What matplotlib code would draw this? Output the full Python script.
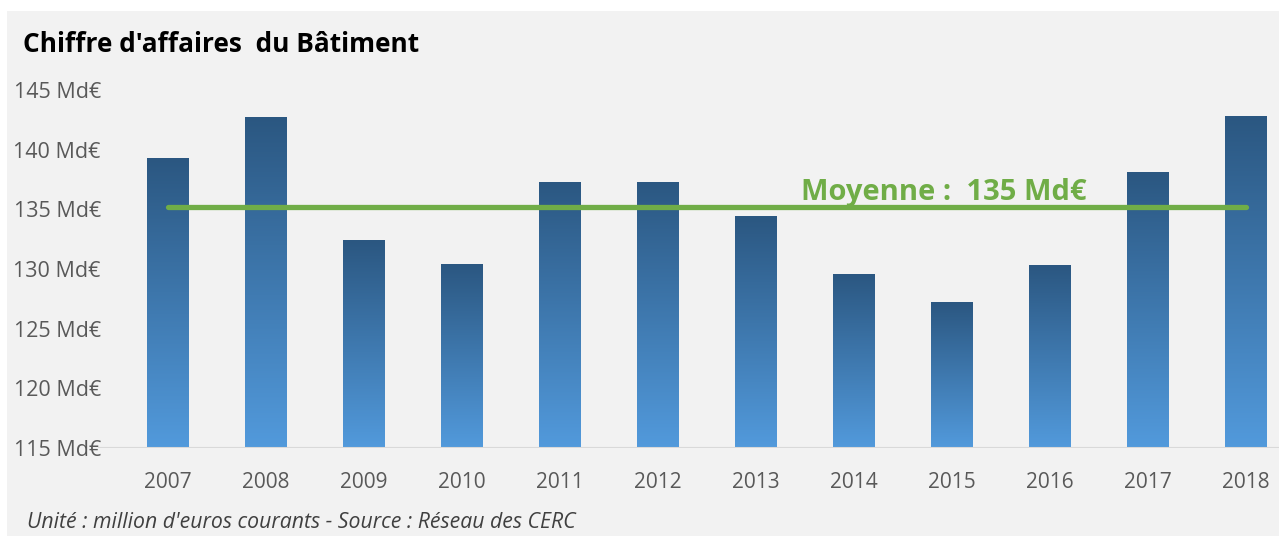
import numpy as np
import matplotlib
matplotlib.use("Agg")
import matplotlib.pyplot as plt
from matplotlib.colors import LinearSegmentedColormap
from matplotlib.patches import Rectangle

# data (Md€)
years = ["2007", "2008", "2009", "2010", "2011", "2012",
         "2013", "2014", "2015", "2016", "2017", "2018"]
turnover = [139.3, 142.7, 132.4, 130.4, 137.3, 137.3,
            134.4, 129.6, 127.2, 130.3, 138.1, 142.8]
average = 135.2
yticks = [115, 120, 125, 130, 135, 140, 145]
ytick_labels = [f"{v} Md€" for v in yticks]

W, H = 1279, 536
fig = plt.figure(figsize=(W / 100, H / 100), dpi=100, facecolor="white")
plt.rcParams["font.family"] = ["Open Sans", "DejaVu Sans"]

# grey panel (thin white strip at top / left)
fig.patches.append(Rectangle((7 / W, 0), 1, 1 - 11 / H, transform=fig.transFigure,
                             facecolor="#f2f2f2", edgecolor="none", zorder=-1))

ax = fig.add_axes([98 / W, 1 - 448 / H, 1 - 98 / W, (448 - 90) / H])
ax.set_facecolor("none")
x = np.arange(len(years))

# bars with vertical gradient
cmap = LinearSegmentedColormap.from_list("bluegrad", ["#529adc", "#2b5781"])
grad = np.linspace(0, 1, 256).reshape(-1, 1)
bars = ax.bar(x, [v - 115 for v in turnover], bottom=115, width=0.42,
              facecolor="none", edgecolor="none", zorder=2)
for b in bars:
    bx, by = b.get_x(), b.get_y()
    bw, bh = b.get_width(), b.get_height()
    im = ax.imshow(grad, cmap=cmap, aspect="auto", origin="lower",
                   extent=(bx, bx + bw, by, by + bh), zorder=2)
    im.set_clip_path(b)
ax.set_xlim(-0.714, 11.337)
ax.set_ylim(115, 145)

# baseline
ax.axhline(115, color="#d9d9d9", lw=1.5, zorder=3)

# average line
ax.plot([x[0], x[-1]], [average, average], color="#70ad47", lw=3.8,
        solid_capstyle="round", zorder=4)
ax.text(6.46, average + 0.55, "Moyenne :  135 Md€", color="#70ad47",
        fontsize=21, fontweight="bold", ha="left", va="baseline", zorder=5)

for s in ax.spines.values():
    s.set_visible(False)
ax.set_xticks(x)
ax.set_xticklabels(years, fontsize=15, color="#595959")
ax.set_yticks(yticks)
ax.set_yticklabels(ytick_labels, fontsize=15.5, color="#595959")
ax.tick_params(axis="x", length=0, pad=17)
ax.tick_params(axis="y", length=0, pad=-2)

fig.text(23 / W, 1 - 45 / H, "Chiffre d'affaires  du Bâtiment", fontsize=18.9,
         fontweight="bold", color="black", ha="left", va="center")
fig.text(27 / W, 1 - 522 / H,
         "Unité : million d'euros courants - Source : Réseau des CERC",
         fontsize=15.3, style="italic", color="#404040", ha="left", va="center")

fig.savefig("out.png", dpi=100, facecolor=fig.get_facecolor())
